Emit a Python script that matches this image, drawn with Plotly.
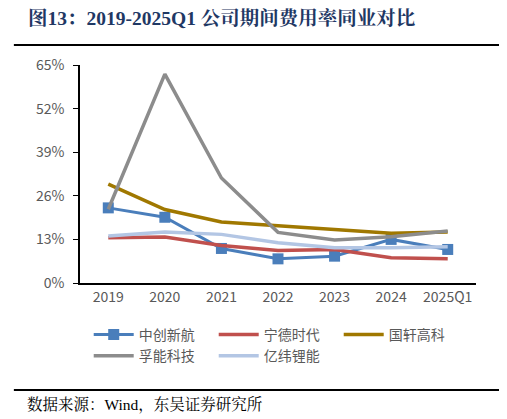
import plotly.graph_objects as go

years = ["2019", "2020", "2021", "2022", "2023", "2024", "2025Q1"]

# 期间费用率 (%)
zhongchuang = [22.4, 19.6, 10.3, 7.2, 8.0, 13.0, 10.0]
ningde = [13.5, 13.7, 11.2, 9.7, 10.0, 7.5, 7.2]
guoxuan = [29.5, 21.9, 18.2, 17.0, 16.0, 14.8, 15.2]
funeng = [22.0, 62.3, 31.3, 15.1, 12.8, 13.8, 15.5]
yiwei = [14.0, 15.2, 14.5, 12.0, 10.5, 10.5, 10.8]

names = ["中创新航", "宁德时代", "国轩高科", "孚能科技", "亿纬锂能"]
colors = ["#4A7EBB", "#C0504D", "#A07800", "#8C8C8C", "#B3C6E4"]
series = [zhongchuang, ningde, guoxuan, funeng, yiwei]

yticks = [0, 13, 26, 39, 52, 65]

cjk = "Noto Sans CJK SC, Noto Sans, sans-serif"
serif = "Liberation Serif, Noto Serif CJK SC, Noto Sans CJK SC, serif"

fig = go.Figure()
for name, col, vals in zip(names, colors, series):
    if name == "中创新航":
        fig.add_trace(go.Scatter(x=years, y=vals, name=name, mode="lines+markers",
                                 line=dict(color=col, width=3),
                                 marker=dict(symbol="square", size=11, color=col)))
    else:
        fig.add_trace(go.Scatter(x=years, y=vals, name=name, mode="lines",
                                 line=dict(color=col, width=3.5)))

fig.update_layout(
    width=507, height=419,
    margin=dict(l=72, r=39, t=57, b=144),
    paper_bgcolor="white", plot_bgcolor="white",
    font=dict(family=cjk, size=14, color="#595959"),
    showlegend=True,
    legend=dict(orientation="h", x=0.022, y=-0.165, xanchor="left", yanchor="top",
                entrywidth=70, entrywidthmode="pixels", itemwidth=40,
                font=dict(size=14, color="#595959"), tracegroupgap=0),
)
fig.update_xaxes(type="category", showline=True, linecolor="black", linewidth=1.5,
                 showgrid=False, ticks="", tickfont=dict(size=14, color="#595959"),
                 range=[-0.5, 6.5])
fig.update_yaxes(range=[0, 65], tickvals=yticks, ticktext=[f"{v}%" for v in yticks],
                 showline=True, linecolor="black", linewidth=1.5, showgrid=False,
                 ticks="outside", ticklen=5, tickcolor="black", zeroline=False,
                 ticklabelstandoff=6, tickfont=dict(size=14, color="#595959"))

# title, rules and source note
fig.add_annotation(text="<b>图13：2019-2025Q1 公司期间费用率同业对比</b>",
                   xref="paper", yref="paper", x=-0.134, y=1.212,
                   xanchor="left", yanchor="middle", showarrow=False, borderpad=0,
                   font=dict(family=serif, size=19.5, color="#1F3864"))
fig.add_shape(type="line", xref="paper", yref="paper", x0=-0.167, x1=1.086,
              y0=1.0917, y1=1.0917, line=dict(color="black", width=2))
fig.add_shape(type="line", xref="paper", yref="paper", x0=-0.167, x1=1.086,
              y0=-0.4908, y1=-0.4908, line=dict(color="black", width=2))
fig.add_annotation(text="数据来源：Wind，东吴证券研究所",
                   xref="paper", yref="paper", x=-0.139, y=-0.56,
                   xanchor="left", yanchor="middle", showarrow=False,
                   font=dict(family=serif, size=15.5, color="black"))

fig.write_html("out.html")
